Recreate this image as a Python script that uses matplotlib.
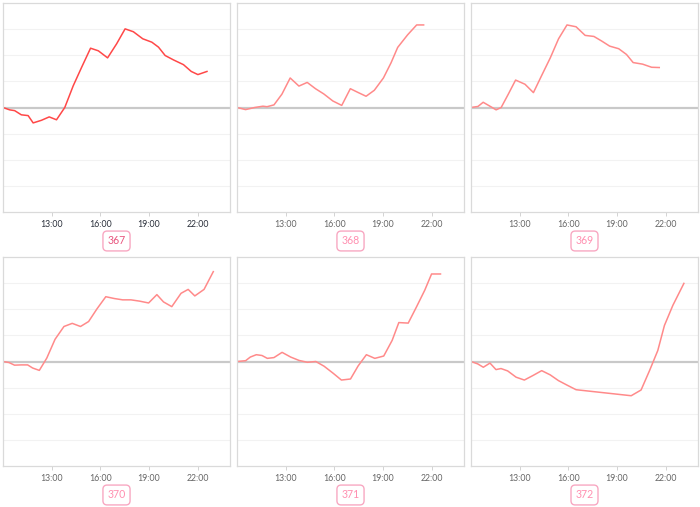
import matplotlib
matplotlib.use("Agg")
import matplotlib.pyplot as plt

# ids shown under each small chart
ids = ["367", "368", "369", "370", "371", "372"]

# x tick labels (hours of the day)
tick_hours = [13, 16, 19, 22]
tick_labels = ["13:00", "16:00", "19:00", "22:00"]

# values: time in hours, change relative to open
t367 = [10.0, 10.41, 10.72, 11.13, 11.55, 11.86, 12.37, 12.85, 13.3, 13.81, 14.33, 14.85, 15.4,
        15.88, 16.45, 17.01, 17.53, 18.04, 18.62, 19.18, 19.59, 20.0, 20.52, 21.13, 21.61, 22.02, 22.58]
v367 = [0, -0.09, -0.12, -0.28, -0.31, -0.59, -0.49, -0.36, -0.47, 0, 0.83, 1.54, 2.27,
        2.17, 1.9, 2.44, 3.01, 2.9, 2.63, 2.5, 2.31, 1.99, 1.82, 1.64, 1.38, 1.26, 1.38]

t368 = [10.0, 10.53, 11.09, 11.6, 11.85, 12.28, 12.77, 13.28, 13.82, 14.33, 14.84, 15.35,
        15.91, 16.46, 16.99, 17.45, 17.96, 18.47, 19.03, 19.5, 19.91, 20.52, 21.08, 21.51]
v368 = [0, -0.08, 0, 0.05, 0.03, 0.1, 0.51, 1.13, 0.82, 0.96, 0.72, 0.52,
        0.25, 0.08, 0.72, 0.58, 0.43, 0.66, 1.13, 1.71, 2.3, 2.78, 3.16, 3.16]

t369 = [10.0, 10.43, 10.75, 11.14, 11.55, 11.86, 12.3, 12.75, 13.33, 13.85, 14.37, 14.89, 15.4,
        15.92, 16.48, 17.04, 17.58, 18.07, 18.55, 19.11, 19.59, 20.0, 20.58, 21.14, 21.61]
v369 = [0, 0.04, 0.2, 0.06, -0.09, 0, 0.51, 1.05, 0.89, 0.57, 1.24, 1.9, 2.63,
        3.16, 3.09, 2.76, 2.72, 2.54, 2.35, 2.25, 2.03, 1.72, 1.66, 1.54, 1.53]

t370 = [10.0, 10.37, 10.71, 11.12, 11.52, 11.83, 12.24, 12.7, 13.21, 13.76, 14.27, 14.78, 15.28, 15.79,
        16.34, 16.87, 17.38, 17.89, 18.43, 18.98, 19.49, 19.9, 20.41, 20.98, 21.42, 21.83, 22.4, 22.97]
v370 = [0, -0.04, -0.14, -0.13, -0.13, -0.25, -0.34, 0.13, 0.85, 1.34, 1.46, 1.34, 1.53, 2.01,
        2.48, 2.41, 2.36, 2.36, 2.31, 2.24, 2.56, 2.28, 2.1, 2.61, 2.76, 2.51, 2.76, 3.44]

t371 = [10.0, 10.53, 10.82, 11.19, 11.54, 11.87, 12.28, 12.78, 13.31, 13.83, 14.34, 14.86, 15.37, 15.93,
        16.44, 17.0, 17.47, 17.98, 18.5, 19.05, 19.57, 19.98, 20.56, 21.07, 21.58, 22.0, 22.55]
v371 = [0, 0.03, 0.17, 0.26, 0.23, 0.12, 0.15, 0.35, 0.17, 0.04, -0.03, 0, -0.18, -0.45,
        -0.71, -0.67, -0.17, 0.26, 0.12, 0.21, 0.81, 1.49, 1.47, 2.09, 2.73, 3.35, 3.35]

t372 = [10.0, 10.41, 10.76, 11.17, 11.54, 11.85, 12.26, 12.78, 13.29, 13.81, 14.36, 14.88, 15.39,
        15.91, 16.48, 19.88, 20.49, 21.01, 21.52, 21.93, 22.45, 23.13]
v372 = [0, -0.09, -0.22, -0.06, -0.31, -0.27, -0.36, -0.6, -0.71, -0.54, -0.35, -0.51, -0.73,
        -0.9, -1.08, -1.31, -1.09, -0.35, 0.42, 1.38, 2.15, 2.99]

series = [(t367, v367), (t368, v368), (t369, v369), (t370, v370), (t371, v371), (t372, v372)]

plt.rcParams['font.family'] = ['Lato', 'DejaVu Sans']

fig = plt.figure(figsize=(7, 5.07), dpi=100)

lefts = [3, 237, 471]
tops = [3, 257]
w_px, h_px = 227, 209

for i, (t, v) in enumerate(series):
    row, col = divmod(i, 3)
    ax = fig.add_axes([lefts[col] / 700, 1 - (tops[row] + h_px) / 507, w_px / 700, h_px / 507])

    # faint grid, stronger zero line
    for g in [-3, -2, -1, 1, 2, 3]:
        ax.axhline(g, color='#f2f2f2', lw=0.8, zorder=0)
    ax.axhline(0, color='#c9c9c9', lw=1.6, zorder=1)

    color = '#ff4848' if i == 0 else '#ff8a8a'
    ax.plot(t, v, color=color, lw=1.1, zorder=2)

    ax.set_xlim(10, 24)
    ax.set_ylim(-4, 4)
    ax.set_yticks([])
    ax.set_xticks(tick_hours)
    ax.set_xticklabels(tick_labels)
    lab_color = '#2a2f3a' if i == 0 else '#666666'
    ax.tick_params(axis='x', length=3, width=0.6, color='#cccccc', labelsize=6.3,
                   labelcolor=lab_color, pad=3)
    for s in ax.spines.values():
        s.set_color('#dadada')
        s.set_linewidth(0.9)

    txt_color = '#e8557e' if i == 0 else '#ff8fb0'
    ax.annotate(ids[i], xy=(0.5, 0), xycoords='axes fraction',
                xytext=(0, -29), textcoords='offset pixels',
                ha='center', va='center', fontsize=7.6, color=txt_color,
                bbox=dict(boxstyle='round,pad=0.42,rounding_size=0.4', fc='white',
                          ec='#f8a8c2', lw=1.0))

fig.savefig('out.png', dpi=100)
